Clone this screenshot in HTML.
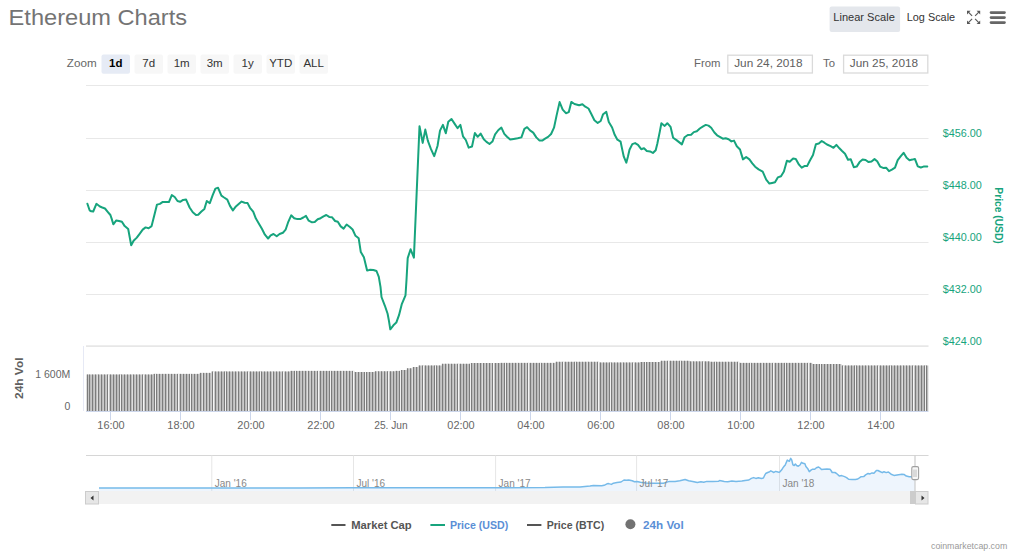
<!DOCTYPE html>
<html><head><meta charset="utf-8"><title>Ethereum Charts</title>
<style>html,body{margin:0;padding:0;background:#fff;width:1024px;height:557px;overflow:hidden}
svg{display:block;font-family:"Liberation Sans", sans-serif}</style></head>
<body><svg width="1024" height="557" viewBox="0 0 1024 557">
<rect width="1024" height="557" fill="#fff"/>
<text x="8.6" y="24.9" font-size="22" fill="#747474" textLength="178.5" lengthAdjust="spacingAndGlyphs">Ethereum Charts</text>
<text x="66.8" y="67.4" font-size="11.3" fill="#666" textLength="29.8" lengthAdjust="spacingAndGlyphs">Zoom</text>
<rect x="101.5" y="54.5" width="28.5" height="19.3" rx="2" fill="#e6ebf5"/>
<text x="115.7" y="67.2" font-size="11.5" text-anchor="middle" fill="#000" font-weight="bold">1d</text>
<rect x="134.5" y="54.5" width="28.5" height="19.3" rx="2" fill="#f7f7f7"/>
<text x="148.7" y="67.2" font-size="11.5" text-anchor="middle" fill="#333" font-weight="normal">7d</text>
<rect x="167.5" y="54.5" width="28.5" height="19.3" rx="2" fill="#f7f7f7"/>
<text x="181.7" y="67.2" font-size="11.5" text-anchor="middle" fill="#333" font-weight="normal">1m</text>
<rect x="200.5" y="54.5" width="28.5" height="19.3" rx="2" fill="#f7f7f7"/>
<text x="214.7" y="67.2" font-size="11.5" text-anchor="middle" fill="#333" font-weight="normal">3m</text>
<rect x="233.5" y="54.5" width="28.5" height="19.3" rx="2" fill="#f7f7f7"/>
<text x="247.7" y="67.2" font-size="11.5" text-anchor="middle" fill="#333" font-weight="normal">1y</text>
<rect x="266.5" y="54.5" width="28.5" height="19.3" rx="2" fill="#f7f7f7"/>
<text x="280.7" y="67.2" font-size="11.5" text-anchor="middle" fill="#333" font-weight="normal">YTD</text>
<rect x="299.5" y="54.5" width="28.5" height="19.3" rx="2" fill="#f7f7f7"/>
<text x="313.7" y="67.2" font-size="11.5" text-anchor="middle" fill="#333" font-weight="normal">ALL</text>
<text x="694" y="66.9" font-size="11.3" fill="#666">From</text>
<rect x="727.8" y="55.2" width="84.6" height="17.8" fill="#fff" stroke="#dadada" stroke-width="1.3"/>
<text x="734.2" y="66.9" font-size="11.6" fill="#606060" textLength="68.3" lengthAdjust="spacingAndGlyphs">Jun 24, 2018</text>
<text x="823" y="66.9" font-size="11.3" fill="#666">To</text>
<rect x="843.6" y="55.2" width="84.2" height="17.8" fill="#fff" stroke="#dadada" stroke-width="1.3"/>
<text x="849.8" y="66.9" font-size="11.6" fill="#606060" textLength="68.3" lengthAdjust="spacingAndGlyphs">Jun 25, 2018</text>
<rect x="829.6" y="6.6" width="70.5" height="25.3" rx="2" fill="#e4e7ec"/>
<text x="833.3" y="21" font-size="11" fill="#333" textLength="61.5" lengthAdjust="spacingAndGlyphs">Linear Scale</text>
<text x="906.8" y="21" font-size="11" fill="#333" textLength="48.3" lengthAdjust="spacingAndGlyphs">Log Scale</text>
<g fill="#585858" stroke="none"><path d="M967 10.8 L970.6 10.8 L967 14.4 Z"/><path d="M980.2 10.8 L976.6 10.8 L980.2 14.4 Z"/><path d="M967 24 L970.6 24 L967 20.4 Z"/><path d="M980.2 24 L976.6 24 L980.2 20.4 Z"/></g>
<g stroke="#585858" stroke-width="1.15" fill="none"><path d="M968.4 12.2 L972.1 15.9"/><path d="M978.8 12.2 L975.1 15.9"/><path d="M968.4 22.6 L972.1 18.9"/><path d="M978.8 22.6 L975.1 18.9"/></g>
<g stroke="#666" stroke-width="2.6" stroke-linecap="round"><path d="M991 12.6 H1004.5"/><path d="M991 17.6 H1004.5"/><path d="M991 22.6 H1004.5"/></g>
<path d="M86 85.5 H928.5" stroke="#e8e8e8" stroke-width="1"/>
<path d="M86 138.5 H928.5" stroke="#e8e8e8" stroke-width="1"/>
<path d="M86 190.5 H928.5" stroke="#e8e8e8" stroke-width="1"/>
<path d="M86 242.5 H928.5" stroke="#e8e8e8" stroke-width="1"/>
<path d="M86 294.5 H928.5" stroke="#e8e8e8" stroke-width="1"/>
<path d="M86 346.1 H928.5" stroke="#e7e7e7" stroke-width="1.8"/>
<text x="942.8" y="136.60000000000002" font-size="10.6" fill="#17a47d" textLength="39" lengthAdjust="spacingAndGlyphs">$456.00</text>
<text x="942.8" y="188.8" font-size="10.6" fill="#17a47d" textLength="39" lengthAdjust="spacingAndGlyphs">$448.00</text>
<text x="942.8" y="241.0" font-size="10.6" fill="#17a47d" textLength="39" lengthAdjust="spacingAndGlyphs">$440.00</text>
<text x="942.8" y="293.2" font-size="10.6" fill="#17a47d" textLength="39" lengthAdjust="spacingAndGlyphs">$432.00</text>
<text x="942.8" y="344.8" font-size="10.6" fill="#17a47d" textLength="39" lengthAdjust="spacingAndGlyphs">$424.00</text>
<text transform="translate(994.9 187.3) rotate(90)" x="0" y="0" font-size="10.8" font-weight="bold" fill="#17a47d" textLength="56.5" lengthAdjust="spacingAndGlyphs">Price (USD)</text>
<path d="M83.5 346 V411" stroke="#e6e9f5" stroke-width="1"/>
<path d="M86 379.5 H928.5" stroke="#efefef" stroke-width="1"/>
<g><rect x="86.50" y="374.5" width="2.36" height="36.5" fill="#bcbcbc"/><rect x="87" y="374.5" width="1" height="36.5" fill="#7c7c7c"/><rect x="88.86" y="374.5" width="2.92" height="36.5" fill="#bcbcbc"/><rect x="89" y="374.5" width="1" height="36.5" fill="#7c7c7c"/><rect x="91.78" y="374.5" width="2.92" height="36.5" fill="#bcbcbc"/><rect x="92" y="374.5" width="1" height="36.5" fill="#7c7c7c"/><rect x="94.69" y="374.5" width="2.92" height="36.5" fill="#bcbcbc"/><rect x="95" y="374.5" width="1" height="36.5" fill="#7c7c7c"/><rect x="97" y="374.5" width="1" height="36.5" fill="#f4f4f4"/><rect x="97.61" y="374.5" width="2.92" height="36.5" fill="#bcbcbc"/><rect x="98" y="374.5" width="1" height="36.5" fill="#7c7c7c"/><rect x="100.53" y="374.5" width="2.92" height="36.5" fill="#bcbcbc"/><rect x="101" y="374.5" width="1" height="36.5" fill="#7c7c7c"/><rect x="103.44" y="374.5" width="2.92" height="36.5" fill="#bcbcbc"/><rect x="104" y="374.5" width="1" height="36.5" fill="#7c7c7c"/><rect x="106.36" y="374.5" width="2.92" height="36.5" fill="#bcbcbc"/><rect x="107" y="374.5" width="1" height="36.5" fill="#7c7c7c"/><rect x="108" y="374.5" width="1" height="36.5" fill="#f4f4f4"/><rect x="109.28" y="374.5" width="2.92" height="36.5" fill="#bcbcbc"/><rect x="110" y="374.5" width="1" height="36.5" fill="#7c7c7c"/><rect x="112.19" y="374.5" width="2.92" height="36.5" fill="#bcbcbc"/><rect x="113" y="374.5" width="1" height="36.5" fill="#7c7c7c"/><rect x="115.11" y="374.5" width="2.92" height="36.5" fill="#bcbcbc"/><rect x="116" y="374.5" width="1" height="36.5" fill="#7c7c7c"/><rect x="118.03" y="374.5" width="2.92" height="36.5" fill="#bcbcbc"/><rect x="119" y="374.5" width="1" height="36.5" fill="#7c7c7c"/><rect x="120" y="374.5" width="1" height="36.5" fill="#f4f4f4"/><rect x="120.94" y="374.5" width="2.92" height="36.5" fill="#bcbcbc"/><rect x="121" y="374.5" width="1" height="36.5" fill="#7c7c7c"/><rect x="123.86" y="374.5" width="2.92" height="36.5" fill="#bcbcbc"/><rect x="124" y="374.5" width="1" height="36.5" fill="#7c7c7c"/><rect x="126.78" y="374.5" width="2.92" height="36.5" fill="#bcbcbc"/><rect x="127" y="374.5" width="1" height="36.5" fill="#7c7c7c"/><rect x="129.69" y="374.5" width="2.92" height="36.5" fill="#bcbcbc"/><rect x="130" y="374.5" width="1" height="36.5" fill="#7c7c7c"/><rect x="132" y="374.5" width="1" height="36.5" fill="#f4f4f4"/><rect x="132.61" y="374.5" width="2.92" height="36.5" fill="#bcbcbc"/><rect x="133" y="374.5" width="1" height="36.5" fill="#7c7c7c"/><rect x="135.53" y="374.5" width="2.92" height="36.5" fill="#bcbcbc"/><rect x="136" y="374.5" width="1" height="36.5" fill="#7c7c7c"/><rect x="138.44" y="374.5" width="2.92" height="36.5" fill="#bcbcbc"/><rect x="139" y="374.5" width="1" height="36.5" fill="#7c7c7c"/><rect x="141.36" y="374.5" width="2.92" height="36.5" fill="#bcbcbc"/><rect x="142" y="374.5" width="1" height="36.5" fill="#7c7c7c"/><rect x="143" y="374.5" width="1" height="36.5" fill="#f4f4f4"/><rect x="144.28" y="374.5" width="2.92" height="36.5" fill="#bcbcbc"/><rect x="145" y="374.5" width="1" height="36.5" fill="#7c7c7c"/><rect x="147.19" y="374.5" width="2.92" height="36.5" fill="#bcbcbc"/><rect x="148" y="374.5" width="1" height="36.5" fill="#7c7c7c"/><rect x="150.11" y="374.5" width="2.92" height="36.5" fill="#bcbcbc"/><rect x="151" y="374.5" width="1" height="36.5" fill="#7c7c7c"/><rect x="153.03" y="373.9" width="2.92" height="37.1" fill="#bcbcbc"/><rect x="154" y="373.9" width="1" height="37.1" fill="#7c7c7c"/><rect x="155" y="373.9" width="1" height="37.1" fill="#f4f4f4"/><rect x="155.94" y="373.9" width="2.92" height="37.1" fill="#bcbcbc"/><rect x="156" y="373.9" width="1" height="37.1" fill="#7c7c7c"/><rect x="158.86" y="373.9" width="2.92" height="37.1" fill="#bcbcbc"/><rect x="159" y="373.9" width="1" height="37.1" fill="#7c7c7c"/><rect x="161.78" y="373.9" width="2.92" height="37.1" fill="#bcbcbc"/><rect x="162" y="373.9" width="1" height="37.1" fill="#7c7c7c"/><rect x="164.69" y="373.9" width="2.92" height="37.1" fill="#bcbcbc"/><rect x="165" y="373.9" width="1" height="37.1" fill="#7c7c7c"/><rect x="167" y="373.9" width="1" height="37.1" fill="#f4f4f4"/><rect x="167.61" y="373.9" width="2.92" height="37.1" fill="#bcbcbc"/><rect x="168" y="373.9" width="1" height="37.1" fill="#7c7c7c"/><rect x="170.53" y="373.9" width="2.92" height="37.1" fill="#bcbcbc"/><rect x="171" y="373.9" width="1" height="37.1" fill="#7c7c7c"/><rect x="173.44" y="373.9" width="2.92" height="37.1" fill="#bcbcbc"/><rect x="174" y="373.9" width="1" height="37.1" fill="#7c7c7c"/><rect x="176.36" y="373.9" width="2.92" height="37.1" fill="#bcbcbc"/><rect x="177" y="373.9" width="1" height="37.1" fill="#7c7c7c"/><rect x="178" y="373.9" width="1" height="37.1" fill="#f4f4f4"/><rect x="179.28" y="373.9" width="2.92" height="37.1" fill="#bcbcbc"/><rect x="180" y="373.9" width="1" height="37.1" fill="#7c7c7c"/><rect x="182.19" y="373.9" width="2.92" height="37.1" fill="#bcbcbc"/><rect x="183" y="373.9" width="1" height="37.1" fill="#7c7c7c"/><rect x="185.11" y="373.9" width="2.92" height="37.1" fill="#bcbcbc"/><rect x="186" y="373.9" width="1" height="37.1" fill="#7c7c7c"/><rect x="188.03" y="373.9" width="2.92" height="37.1" fill="#bcbcbc"/><rect x="189" y="373.9" width="1" height="37.1" fill="#7c7c7c"/><rect x="190" y="373.9" width="1" height="37.1" fill="#f4f4f4"/><rect x="190.94" y="373.9" width="2.92" height="37.1" fill="#bcbcbc"/><rect x="191" y="373.9" width="1" height="37.1" fill="#7c7c7c"/><rect x="193.86" y="373.9" width="2.92" height="37.1" fill="#bcbcbc"/><rect x="194" y="373.9" width="1" height="37.1" fill="#7c7c7c"/><rect x="196.78" y="373.9" width="2.92" height="37.1" fill="#bcbcbc"/><rect x="197" y="373.9" width="1" height="37.1" fill="#7c7c7c"/><rect x="199.69" y="372.9" width="2.92" height="38.1" fill="#bcbcbc"/><rect x="200" y="372.9" width="1" height="38.1" fill="#7c7c7c"/><rect x="202" y="372.9" width="1" height="38.1" fill="#f4f4f4"/><rect x="202.61" y="372.9" width="2.92" height="38.1" fill="#bcbcbc"/><rect x="203" y="372.9" width="1" height="38.1" fill="#7c7c7c"/><rect x="205.53" y="372.9" width="2.92" height="38.1" fill="#bcbcbc"/><rect x="206" y="372.9" width="1" height="38.1" fill="#7c7c7c"/><rect x="208.44" y="372.9" width="2.92" height="38.1" fill="#bcbcbc"/><rect x="209" y="372.9" width="1" height="38.1" fill="#7c7c7c"/><rect x="211.36" y="371.5" width="2.92" height="39.5" fill="#bcbcbc"/><rect x="212" y="371.5" width="1" height="39.5" fill="#7c7c7c"/><rect x="213" y="371.5" width="1" height="39.5" fill="#f4f4f4"/><rect x="214.27" y="371.5" width="2.92" height="39.5" fill="#bcbcbc"/><rect x="215" y="371.5" width="1" height="39.5" fill="#7c7c7c"/><rect x="217.19" y="371.5" width="2.92" height="39.5" fill="#bcbcbc"/><rect x="218" y="371.5" width="1" height="39.5" fill="#7c7c7c"/><rect x="220.11" y="371.5" width="2.92" height="39.5" fill="#bcbcbc"/><rect x="221" y="371.5" width="1" height="39.5" fill="#7c7c7c"/><rect x="223.02" y="371.5" width="2.92" height="39.5" fill="#bcbcbc"/><rect x="224" y="371.5" width="1" height="39.5" fill="#7c7c7c"/><rect x="225" y="371.5" width="1" height="39.5" fill="#f4f4f4"/><rect x="225.94" y="371.5" width="2.92" height="39.5" fill="#bcbcbc"/><rect x="226" y="371.5" width="1" height="39.5" fill="#7c7c7c"/><rect x="228.86" y="371.5" width="2.92" height="39.5" fill="#bcbcbc"/><rect x="229" y="371.5" width="1" height="39.5" fill="#7c7c7c"/><rect x="231.77" y="371.5" width="2.92" height="39.5" fill="#bcbcbc"/><rect x="232" y="371.5" width="1" height="39.5" fill="#7c7c7c"/><rect x="234.69" y="371.5" width="2.92" height="39.5" fill="#bcbcbc"/><rect x="235" y="371.5" width="1" height="39.5" fill="#7c7c7c"/><rect x="237" y="371.5" width="1" height="39.5" fill="#f4f4f4"/><rect x="237.61" y="371.5" width="2.92" height="39.5" fill="#bcbcbc"/><rect x="238" y="371.5" width="1" height="39.5" fill="#7c7c7c"/><rect x="240.52" y="371.5" width="2.92" height="39.5" fill="#bcbcbc"/><rect x="241" y="371.5" width="1" height="39.5" fill="#7c7c7c"/><rect x="243.44" y="371.5" width="2.92" height="39.5" fill="#bcbcbc"/><rect x="244" y="371.5" width="1" height="39.5" fill="#7c7c7c"/><rect x="246.36" y="371.5" width="2.92" height="39.5" fill="#bcbcbc"/><rect x="247" y="371.5" width="1" height="39.5" fill="#7c7c7c"/><rect x="248" y="371.5" width="1" height="39.5" fill="#f4f4f4"/><rect x="249.27" y="371.5" width="2.92" height="39.5" fill="#bcbcbc"/><rect x="250" y="371.5" width="1" height="39.5" fill="#7c7c7c"/><rect x="252.19" y="371.5" width="2.92" height="39.5" fill="#bcbcbc"/><rect x="253" y="371.5" width="1" height="39.5" fill="#7c7c7c"/><rect x="255.11" y="371.5" width="2.92" height="39.5" fill="#bcbcbc"/><rect x="256" y="371.5" width="1" height="39.5" fill="#7c7c7c"/><rect x="258.03" y="371.5" width="2.92" height="39.5" fill="#bcbcbc"/><rect x="259" y="371.5" width="1" height="39.5" fill="#7c7c7c"/><rect x="260" y="371.5" width="1" height="39.5" fill="#f4f4f4"/><rect x="260.94" y="371.5" width="2.92" height="39.5" fill="#bcbcbc"/><rect x="261" y="371.5" width="1" height="39.5" fill="#7c7c7c"/><rect x="263.86" y="371.5" width="2.92" height="39.5" fill="#bcbcbc"/><rect x="264" y="371.5" width="1" height="39.5" fill="#7c7c7c"/><rect x="266.78" y="371.5" width="2.92" height="39.5" fill="#bcbcbc"/><rect x="267" y="371.5" width="1" height="39.5" fill="#7c7c7c"/><rect x="269.69" y="371.5" width="2.92" height="39.5" fill="#bcbcbc"/><rect x="270" y="371.5" width="1" height="39.5" fill="#7c7c7c"/><rect x="272" y="371.5" width="1" height="39.5" fill="#f4f4f4"/><rect x="272.61" y="371.5" width="2.92" height="39.5" fill="#bcbcbc"/><rect x="273" y="371.5" width="1" height="39.5" fill="#7c7c7c"/><rect x="275.53" y="371.5" width="2.92" height="39.5" fill="#bcbcbc"/><rect x="276" y="371.5" width="1" height="39.5" fill="#7c7c7c"/><rect x="278.44" y="371.5" width="2.92" height="39.5" fill="#bcbcbc"/><rect x="279" y="371.5" width="1" height="39.5" fill="#7c7c7c"/><rect x="281.36" y="371.5" width="2.92" height="39.5" fill="#bcbcbc"/><rect x="282" y="371.5" width="1" height="39.5" fill="#7c7c7c"/><rect x="283" y="371.5" width="1" height="39.5" fill="#f4f4f4"/><rect x="284.28" y="371.5" width="2.92" height="39.5" fill="#bcbcbc"/><rect x="285" y="371.5" width="1" height="39.5" fill="#7c7c7c"/><rect x="287.19" y="371.5" width="2.92" height="39.5" fill="#bcbcbc"/><rect x="288" y="371.5" width="1" height="39.5" fill="#7c7c7c"/><rect x="290.11" y="370.9" width="2.92" height="40.1" fill="#bcbcbc"/><rect x="291" y="370.9" width="1" height="40.1" fill="#7c7c7c"/><rect x="293.03" y="370.9" width="2.92" height="40.1" fill="#bcbcbc"/><rect x="294" y="370.9" width="1" height="40.1" fill="#7c7c7c"/><rect x="295" y="370.9" width="1" height="40.1" fill="#f4f4f4"/><rect x="295.94" y="370.9" width="2.92" height="40.1" fill="#bcbcbc"/><rect x="296" y="370.9" width="1" height="40.1" fill="#7c7c7c"/><rect x="298.86" y="370.9" width="2.92" height="40.1" fill="#bcbcbc"/><rect x="299" y="370.9" width="1" height="40.1" fill="#7c7c7c"/><rect x="301.78" y="370.9" width="2.92" height="40.1" fill="#bcbcbc"/><rect x="302" y="370.9" width="1" height="40.1" fill="#7c7c7c"/><rect x="304.69" y="370.9" width="2.92" height="40.1" fill="#bcbcbc"/><rect x="305" y="370.9" width="1" height="40.1" fill="#7c7c7c"/><rect x="307" y="370.9" width="1" height="40.1" fill="#f4f4f4"/><rect x="307.61" y="370.9" width="2.92" height="40.1" fill="#bcbcbc"/><rect x="308" y="370.9" width="1" height="40.1" fill="#7c7c7c"/><rect x="310.53" y="370.9" width="2.92" height="40.1" fill="#bcbcbc"/><rect x="311" y="370.9" width="1" height="40.1" fill="#7c7c7c"/><rect x="313.44" y="370.9" width="2.92" height="40.1" fill="#bcbcbc"/><rect x="314" y="370.9" width="1" height="40.1" fill="#7c7c7c"/><rect x="316.36" y="370.9" width="2.92" height="40.1" fill="#bcbcbc"/><rect x="317" y="370.9" width="1" height="40.1" fill="#7c7c7c"/><rect x="318" y="370.9" width="1" height="40.1" fill="#f4f4f4"/><rect x="319.28" y="370.9" width="2.92" height="40.1" fill="#bcbcbc"/><rect x="320" y="370.9" width="1" height="40.1" fill="#7c7c7c"/><rect x="322.19" y="370.9" width="2.92" height="40.1" fill="#bcbcbc"/><rect x="323" y="370.9" width="1" height="40.1" fill="#7c7c7c"/><rect x="325.11" y="370.9" width="2.92" height="40.1" fill="#bcbcbc"/><rect x="326" y="370.9" width="1" height="40.1" fill="#7c7c7c"/><rect x="328.03" y="370.9" width="2.92" height="40.1" fill="#bcbcbc"/><rect x="329" y="370.9" width="1" height="40.1" fill="#7c7c7c"/><rect x="330" y="370.9" width="1" height="40.1" fill="#f4f4f4"/><rect x="330.94" y="370.9" width="2.92" height="40.1" fill="#bcbcbc"/><rect x="331" y="370.9" width="1" height="40.1" fill="#7c7c7c"/><rect x="333.86" y="370.9" width="2.92" height="40.1" fill="#bcbcbc"/><rect x="334" y="370.9" width="1" height="40.1" fill="#7c7c7c"/><rect x="336.78" y="370.9" width="2.92" height="40.1" fill="#bcbcbc"/><rect x="337" y="370.9" width="1" height="40.1" fill="#7c7c7c"/><rect x="339.69" y="370.9" width="2.92" height="40.1" fill="#bcbcbc"/><rect x="340" y="370.9" width="1" height="40.1" fill="#7c7c7c"/><rect x="342" y="370.9" width="1" height="40.1" fill="#f4f4f4"/><rect x="342.61" y="370.9" width="2.92" height="40.1" fill="#bcbcbc"/><rect x="343" y="370.9" width="1" height="40.1" fill="#7c7c7c"/><rect x="345.53" y="370.9" width="2.92" height="40.1" fill="#bcbcbc"/><rect x="346" y="370.9" width="1" height="40.1" fill="#7c7c7c"/><rect x="348.44" y="370.9" width="2.92" height="40.1" fill="#bcbcbc"/><rect x="349" y="370.9" width="1" height="40.1" fill="#7c7c7c"/><rect x="351.36" y="370.9" width="2.92" height="40.1" fill="#bcbcbc"/><rect x="352" y="370.9" width="1" height="40.1" fill="#7c7c7c"/><rect x="353" y="370.9" width="1" height="40.1" fill="#f4f4f4"/><rect x="354.28" y="372.0" width="2.92" height="39.0" fill="#bcbcbc"/><rect x="355" y="372.0" width="1" height="39.0" fill="#7c7c7c"/><rect x="357.19" y="372.0" width="2.92" height="39.0" fill="#bcbcbc"/><rect x="358" y="372.0" width="1" height="39.0" fill="#7c7c7c"/><rect x="360.11" y="372.0" width="2.92" height="39.0" fill="#bcbcbc"/><rect x="361" y="372.0" width="1" height="39.0" fill="#7c7c7c"/><rect x="363.03" y="372.0" width="2.92" height="39.0" fill="#bcbcbc"/><rect x="364" y="372.0" width="1" height="39.0" fill="#7c7c7c"/><rect x="365" y="372.0" width="1" height="39.0" fill="#f4f4f4"/><rect x="365.94" y="372.0" width="2.92" height="39.0" fill="#bcbcbc"/><rect x="366" y="372.0" width="1" height="39.0" fill="#7c7c7c"/><rect x="368.86" y="372.0" width="2.92" height="39.0" fill="#bcbcbc"/><rect x="369" y="372.0" width="1" height="39.0" fill="#7c7c7c"/><rect x="371.78" y="372.0" width="2.92" height="39.0" fill="#bcbcbc"/><rect x="372" y="372.0" width="1" height="39.0" fill="#7c7c7c"/><rect x="374.69" y="371.3" width="2.92" height="39.7" fill="#bcbcbc"/><rect x="375" y="371.3" width="1" height="39.7" fill="#7c7c7c"/><rect x="377" y="371.3" width="1" height="39.7" fill="#f4f4f4"/><rect x="377.61" y="371.3" width="2.92" height="39.7" fill="#bcbcbc"/><rect x="378" y="371.3" width="1" height="39.7" fill="#7c7c7c"/><rect x="380.53" y="371.3" width="2.92" height="39.7" fill="#bcbcbc"/><rect x="381" y="371.3" width="1" height="39.7" fill="#7c7c7c"/><rect x="383.44" y="371.3" width="2.92" height="39.7" fill="#bcbcbc"/><rect x="384" y="371.3" width="1" height="39.7" fill="#7c7c7c"/><rect x="386.36" y="371.3" width="2.92" height="39.7" fill="#bcbcbc"/><rect x="387" y="371.3" width="1" height="39.7" fill="#7c7c7c"/><rect x="388" y="371.3" width="1" height="39.7" fill="#f4f4f4"/><rect x="389.28" y="371.3" width="2.92" height="39.7" fill="#bcbcbc"/><rect x="390" y="371.3" width="1" height="39.7" fill="#7c7c7c"/><rect x="392.19" y="371.3" width="2.92" height="39.7" fill="#bcbcbc"/><rect x="393" y="371.3" width="1" height="39.7" fill="#7c7c7c"/><rect x="395.11" y="370.9" width="2.92" height="40.1" fill="#bcbcbc"/><rect x="396" y="370.9" width="1" height="40.1" fill="#7c7c7c"/><rect x="398.03" y="370.9" width="2.92" height="40.1" fill="#bcbcbc"/><rect x="399" y="370.9" width="1" height="40.1" fill="#7c7c7c"/><rect x="400" y="370.9" width="1" height="40.1" fill="#f4f4f4"/><rect x="400.94" y="370.0" width="2.92" height="41.0" fill="#bcbcbc"/><rect x="401" y="370.0" width="1" height="41.0" fill="#7c7c7c"/><rect x="403.86" y="370.0" width="2.92" height="41.0" fill="#bcbcbc"/><rect x="404" y="370.0" width="1" height="41.0" fill="#7c7c7c"/><rect x="406.78" y="368.3" width="2.92" height="42.7" fill="#bcbcbc"/><rect x="407" y="368.3" width="1" height="42.7" fill="#7c7c7c"/><rect x="409.69" y="368.3" width="2.92" height="42.7" fill="#bcbcbc"/><rect x="410" y="368.3" width="1" height="42.7" fill="#7c7c7c"/><rect x="412" y="368.3" width="1" height="42.7" fill="#f4f4f4"/><rect x="412.61" y="367.0" width="2.92" height="44.0" fill="#bcbcbc"/><rect x="413" y="367.0" width="1" height="44.0" fill="#7c7c7c"/><rect x="415.53" y="367.0" width="2.92" height="44.0" fill="#bcbcbc"/><rect x="416" y="367.0" width="1" height="44.0" fill="#7c7c7c"/><rect x="418.44" y="365.5" width="2.92" height="45.5" fill="#bcbcbc"/><rect x="419" y="365.5" width="1" height="45.5" fill="#7c7c7c"/><rect x="421.36" y="365.5" width="2.92" height="45.5" fill="#bcbcbc"/><rect x="422" y="365.5" width="1" height="45.5" fill="#7c7c7c"/><rect x="423" y="365.5" width="1" height="45.5" fill="#f4f4f4"/><rect x="424.28" y="365.5" width="2.92" height="45.5" fill="#bcbcbc"/><rect x="425" y="365.5" width="1" height="45.5" fill="#7c7c7c"/><rect x="427.19" y="365.5" width="2.92" height="45.5" fill="#bcbcbc"/><rect x="428" y="365.5" width="1" height="45.5" fill="#7c7c7c"/><rect x="430.11" y="365.5" width="2.92" height="45.5" fill="#bcbcbc"/><rect x="431" y="365.5" width="1" height="45.5" fill="#7c7c7c"/><rect x="433.03" y="365.5" width="2.92" height="45.5" fill="#bcbcbc"/><rect x="434" y="365.5" width="1" height="45.5" fill="#7c7c7c"/><rect x="435" y="365.5" width="1" height="45.5" fill="#f4f4f4"/><rect x="435.94" y="365.5" width="2.92" height="45.5" fill="#bcbcbc"/><rect x="436" y="365.5" width="1" height="45.5" fill="#7c7c7c"/><rect x="438.86" y="365.5" width="2.92" height="45.5" fill="#bcbcbc"/><rect x="439" y="365.5" width="1" height="45.5" fill="#7c7c7c"/><rect x="441.78" y="363.8" width="2.92" height="47.2" fill="#bcbcbc"/><rect x="442" y="363.8" width="1" height="47.2" fill="#7c7c7c"/><rect x="444.69" y="363.8" width="2.92" height="47.2" fill="#bcbcbc"/><rect x="445" y="363.8" width="1" height="47.2" fill="#7c7c7c"/><rect x="447" y="363.8" width="1" height="47.2" fill="#f4f4f4"/><rect x="447.61" y="363.8" width="2.92" height="47.2" fill="#bcbcbc"/><rect x="448" y="363.8" width="1" height="47.2" fill="#7c7c7c"/><rect x="450.53" y="363.8" width="2.92" height="47.2" fill="#bcbcbc"/><rect x="451" y="363.8" width="1" height="47.2" fill="#7c7c7c"/><rect x="453.44" y="363.8" width="2.92" height="47.2" fill="#bcbcbc"/><rect x="454" y="363.8" width="1" height="47.2" fill="#7c7c7c"/><rect x="456.36" y="363.8" width="2.92" height="47.2" fill="#bcbcbc"/><rect x="457" y="363.8" width="1" height="47.2" fill="#7c7c7c"/><rect x="458" y="363.8" width="1" height="47.2" fill="#f4f4f4"/><rect x="459.28" y="363.8" width="2.92" height="47.2" fill="#bcbcbc"/><rect x="460" y="363.8" width="1" height="47.2" fill="#7c7c7c"/><rect x="462.19" y="363.8" width="2.92" height="47.2" fill="#bcbcbc"/><rect x="463" y="363.8" width="1" height="47.2" fill="#7c7c7c"/><rect x="465.11" y="363.8" width="2.92" height="47.2" fill="#bcbcbc"/><rect x="466" y="363.8" width="1" height="47.2" fill="#7c7c7c"/><rect x="468.03" y="363.8" width="2.92" height="47.2" fill="#bcbcbc"/><rect x="469" y="363.8" width="1" height="47.2" fill="#7c7c7c"/><rect x="470" y="363.8" width="1" height="47.2" fill="#f4f4f4"/><rect x="470.94" y="363.0" width="2.92" height="48.0" fill="#bcbcbc"/><rect x="471" y="363.0" width="1" height="48.0" fill="#7c7c7c"/><rect x="473.86" y="363.0" width="2.92" height="48.0" fill="#bcbcbc"/><rect x="474" y="363.0" width="1" height="48.0" fill="#7c7c7c"/><rect x="476.78" y="363.0" width="2.92" height="48.0" fill="#bcbcbc"/><rect x="477" y="363.0" width="1" height="48.0" fill="#7c7c7c"/><rect x="479.69" y="363.0" width="2.92" height="48.0" fill="#bcbcbc"/><rect x="480" y="363.0" width="1" height="48.0" fill="#7c7c7c"/><rect x="482" y="363.0" width="1" height="48.0" fill="#f4f4f4"/><rect x="482.61" y="363.0" width="2.92" height="48.0" fill="#bcbcbc"/><rect x="483" y="363.0" width="1" height="48.0" fill="#7c7c7c"/><rect x="485.53" y="363.0" width="2.92" height="48.0" fill="#bcbcbc"/><rect x="486" y="363.0" width="1" height="48.0" fill="#7c7c7c"/><rect x="488.44" y="363.0" width="2.92" height="48.0" fill="#bcbcbc"/><rect x="489" y="363.0" width="1" height="48.0" fill="#7c7c7c"/><rect x="491.36" y="363.0" width="2.92" height="48.0" fill="#bcbcbc"/><rect x="492" y="363.0" width="1" height="48.0" fill="#7c7c7c"/><rect x="493" y="363.0" width="1" height="48.0" fill="#f4f4f4"/><rect x="494.28" y="363.0" width="2.92" height="48.0" fill="#bcbcbc"/><rect x="495" y="363.0" width="1" height="48.0" fill="#7c7c7c"/><rect x="497.19" y="363.0" width="2.92" height="48.0" fill="#bcbcbc"/><rect x="498" y="363.0" width="1" height="48.0" fill="#7c7c7c"/><rect x="500.11" y="362.9" width="2.92" height="48.1" fill="#bcbcbc"/><rect x="501" y="362.9" width="1" height="48.1" fill="#7c7c7c"/><rect x="503.03" y="362.9" width="2.92" height="48.1" fill="#bcbcbc"/><rect x="504" y="362.9" width="1" height="48.1" fill="#7c7c7c"/><rect x="505" y="362.9" width="1" height="48.1" fill="#f4f4f4"/><rect x="505.94" y="362.9" width="2.92" height="48.1" fill="#bcbcbc"/><rect x="506" y="362.9" width="1" height="48.1" fill="#7c7c7c"/><rect x="508.86" y="362.9" width="2.92" height="48.1" fill="#bcbcbc"/><rect x="509" y="362.9" width="1" height="48.1" fill="#7c7c7c"/><rect x="511.78" y="362.9" width="2.92" height="48.1" fill="#bcbcbc"/><rect x="512" y="362.9" width="1" height="48.1" fill="#7c7c7c"/><rect x="514.69" y="362.9" width="2.92" height="48.1" fill="#bcbcbc"/><rect x="515" y="362.9" width="1" height="48.1" fill="#7c7c7c"/><rect x="517" y="362.9" width="1" height="48.1" fill="#f4f4f4"/><rect x="517.61" y="362.9" width="2.92" height="48.1" fill="#bcbcbc"/><rect x="518" y="362.9" width="1" height="48.1" fill="#7c7c7c"/><rect x="520.52" y="362.9" width="2.92" height="48.1" fill="#bcbcbc"/><rect x="521" y="362.9" width="1" height="48.1" fill="#7c7c7c"/><rect x="523.44" y="362.9" width="2.92" height="48.1" fill="#bcbcbc"/><rect x="524" y="362.9" width="1" height="48.1" fill="#7c7c7c"/><rect x="526.36" y="362.9" width="2.92" height="48.1" fill="#bcbcbc"/><rect x="527" y="362.9" width="1" height="48.1" fill="#7c7c7c"/><rect x="528" y="362.9" width="1" height="48.1" fill="#f4f4f4"/><rect x="529.27" y="362.9" width="2.92" height="48.1" fill="#bcbcbc"/><rect x="530" y="362.9" width="1" height="48.1" fill="#7c7c7c"/><rect x="532.19" y="362.9" width="2.92" height="48.1" fill="#bcbcbc"/><rect x="533" y="362.9" width="1" height="48.1" fill="#7c7c7c"/><rect x="535.11" y="362.9" width="2.92" height="48.1" fill="#bcbcbc"/><rect x="536" y="362.9" width="1" height="48.1" fill="#7c7c7c"/><rect x="538.02" y="362.9" width="2.92" height="48.1" fill="#bcbcbc"/><rect x="539" y="362.9" width="1" height="48.1" fill="#7c7c7c"/><rect x="540" y="362.9" width="1" height="48.1" fill="#f4f4f4"/><rect x="540.94" y="362.9" width="2.92" height="48.1" fill="#bcbcbc"/><rect x="541" y="362.9" width="1" height="48.1" fill="#7c7c7c"/><rect x="543.86" y="362.9" width="2.92" height="48.1" fill="#bcbcbc"/><rect x="544" y="362.9" width="1" height="48.1" fill="#7c7c7c"/><rect x="546.77" y="362.9" width="2.92" height="48.1" fill="#bcbcbc"/><rect x="547" y="362.9" width="1" height="48.1" fill="#7c7c7c"/><rect x="549.69" y="362.9" width="2.92" height="48.1" fill="#bcbcbc"/><rect x="550" y="362.9" width="1" height="48.1" fill="#7c7c7c"/><rect x="552" y="362.9" width="1" height="48.1" fill="#f4f4f4"/><rect x="552.61" y="362.9" width="2.92" height="48.1" fill="#bcbcbc"/><rect x="553" y="362.9" width="1" height="48.1" fill="#7c7c7c"/><rect x="555.52" y="361.8" width="2.92" height="49.2" fill="#bcbcbc"/><rect x="556" y="361.8" width="1" height="49.2" fill="#7c7c7c"/><rect x="558.44" y="361.8" width="2.92" height="49.2" fill="#bcbcbc"/><rect x="559" y="361.8" width="1" height="49.2" fill="#7c7c7c"/><rect x="561.36" y="361.8" width="2.92" height="49.2" fill="#bcbcbc"/><rect x="562" y="361.8" width="1" height="49.2" fill="#7c7c7c"/><rect x="563" y="361.8" width="1" height="49.2" fill="#f4f4f4"/><rect x="564.27" y="361.8" width="2.92" height="49.2" fill="#bcbcbc"/><rect x="565" y="361.8" width="1" height="49.2" fill="#7c7c7c"/><rect x="567.19" y="361.8" width="2.92" height="49.2" fill="#bcbcbc"/><rect x="568" y="361.8" width="1" height="49.2" fill="#7c7c7c"/><rect x="570.11" y="361.8" width="2.92" height="49.2" fill="#bcbcbc"/><rect x="571" y="361.8" width="1" height="49.2" fill="#7c7c7c"/><rect x="573.02" y="361.8" width="2.92" height="49.2" fill="#bcbcbc"/><rect x="574" y="361.8" width="1" height="49.2" fill="#7c7c7c"/><rect x="575" y="361.8" width="1" height="49.2" fill="#f4f4f4"/><rect x="575.94" y="361.8" width="2.92" height="49.2" fill="#bcbcbc"/><rect x="576" y="361.8" width="1" height="49.2" fill="#7c7c7c"/><rect x="578.86" y="361.8" width="2.92" height="49.2" fill="#bcbcbc"/><rect x="579" y="361.8" width="1" height="49.2" fill="#7c7c7c"/><rect x="581.77" y="361.8" width="2.92" height="49.2" fill="#bcbcbc"/><rect x="582" y="361.8" width="1" height="49.2" fill="#7c7c7c"/><rect x="584.69" y="361.8" width="2.92" height="49.2" fill="#bcbcbc"/><rect x="585" y="361.8" width="1" height="49.2" fill="#7c7c7c"/><rect x="587" y="361.8" width="1" height="49.2" fill="#f4f4f4"/><rect x="587.61" y="361.8" width="2.92" height="49.2" fill="#bcbcbc"/><rect x="588" y="361.8" width="1" height="49.2" fill="#7c7c7c"/><rect x="590.52" y="361.8" width="2.92" height="49.2" fill="#bcbcbc"/><rect x="591" y="361.8" width="1" height="49.2" fill="#7c7c7c"/><rect x="593.44" y="361.8" width="2.92" height="49.2" fill="#bcbcbc"/><rect x="594" y="361.8" width="1" height="49.2" fill="#7c7c7c"/><rect x="596.36" y="361.8" width="2.92" height="49.2" fill="#bcbcbc"/><rect x="597" y="361.8" width="1" height="49.2" fill="#7c7c7c"/><rect x="598" y="361.8" width="1" height="49.2" fill="#f4f4f4"/><rect x="599.27" y="362.5" width="2.92" height="48.5" fill="#bcbcbc"/><rect x="600" y="362.5" width="1" height="48.5" fill="#7c7c7c"/><rect x="602.19" y="362.5" width="2.92" height="48.5" fill="#bcbcbc"/><rect x="603" y="362.5" width="1" height="48.5" fill="#7c7c7c"/><rect x="605.11" y="362.5" width="2.92" height="48.5" fill="#bcbcbc"/><rect x="606" y="362.5" width="1" height="48.5" fill="#7c7c7c"/><rect x="608.02" y="362.5" width="2.92" height="48.5" fill="#bcbcbc"/><rect x="609" y="362.5" width="1" height="48.5" fill="#7c7c7c"/><rect x="610" y="362.5" width="1" height="48.5" fill="#f4f4f4"/><rect x="610.94" y="362.5" width="2.92" height="48.5" fill="#bcbcbc"/><rect x="611" y="362.5" width="1" height="48.5" fill="#7c7c7c"/><rect x="613.86" y="362.5" width="2.92" height="48.5" fill="#bcbcbc"/><rect x="614" y="362.5" width="1" height="48.5" fill="#7c7c7c"/><rect x="616.77" y="362.5" width="2.92" height="48.5" fill="#bcbcbc"/><rect x="617" y="362.5" width="1" height="48.5" fill="#7c7c7c"/><rect x="619.69" y="362.5" width="2.92" height="48.5" fill="#bcbcbc"/><rect x="620" y="362.5" width="1" height="48.5" fill="#7c7c7c"/><rect x="622" y="362.5" width="1" height="48.5" fill="#f4f4f4"/><rect x="622.61" y="362.5" width="2.92" height="48.5" fill="#bcbcbc"/><rect x="623" y="362.5" width="1" height="48.5" fill="#7c7c7c"/><rect x="625.52" y="362.5" width="2.92" height="48.5" fill="#bcbcbc"/><rect x="626" y="362.5" width="1" height="48.5" fill="#7c7c7c"/><rect x="628.44" y="362.5" width="2.92" height="48.5" fill="#bcbcbc"/><rect x="629" y="362.5" width="1" height="48.5" fill="#7c7c7c"/><rect x="631.36" y="362.5" width="2.92" height="48.5" fill="#bcbcbc"/><rect x="632" y="362.5" width="1" height="48.5" fill="#7c7c7c"/><rect x="633" y="362.5" width="1" height="48.5" fill="#f4f4f4"/><rect x="634.27" y="362.5" width="2.92" height="48.5" fill="#bcbcbc"/><rect x="635" y="362.5" width="1" height="48.5" fill="#7c7c7c"/><rect x="637.19" y="362.5" width="2.92" height="48.5" fill="#bcbcbc"/><rect x="638" y="362.5" width="1" height="48.5" fill="#7c7c7c"/><rect x="640.11" y="362.0" width="2.92" height="49.0" fill="#bcbcbc"/><rect x="641" y="362.0" width="1" height="49.0" fill="#7c7c7c"/><rect x="643.02" y="362.0" width="2.92" height="49.0" fill="#bcbcbc"/><rect x="644" y="362.0" width="1" height="49.0" fill="#7c7c7c"/><rect x="645" y="362.0" width="1" height="49.0" fill="#f4f4f4"/><rect x="645.94" y="362.0" width="2.92" height="49.0" fill="#bcbcbc"/><rect x="646" y="362.0" width="1" height="49.0" fill="#7c7c7c"/><rect x="648.86" y="362.0" width="2.92" height="49.0" fill="#bcbcbc"/><rect x="649" y="362.0" width="1" height="49.0" fill="#7c7c7c"/><rect x="651.77" y="362.0" width="2.92" height="49.0" fill="#bcbcbc"/><rect x="652" y="362.0" width="1" height="49.0" fill="#7c7c7c"/><rect x="654.69" y="362.0" width="2.92" height="49.0" fill="#bcbcbc"/><rect x="655" y="362.0" width="1" height="49.0" fill="#7c7c7c"/><rect x="657" y="362.0" width="1" height="49.0" fill="#f4f4f4"/><rect x="657.61" y="362.0" width="2.92" height="49.0" fill="#bcbcbc"/><rect x="658" y="362.0" width="1" height="49.0" fill="#7c7c7c"/><rect x="660.52" y="360.8" width="2.92" height="50.2" fill="#bcbcbc"/><rect x="661" y="360.8" width="1" height="50.2" fill="#7c7c7c"/><rect x="663.44" y="360.8" width="2.92" height="50.2" fill="#bcbcbc"/><rect x="664" y="360.8" width="1" height="50.2" fill="#7c7c7c"/><rect x="666.36" y="360.8" width="2.92" height="50.2" fill="#bcbcbc"/><rect x="667" y="360.8" width="1" height="50.2" fill="#7c7c7c"/><rect x="668" y="360.8" width="1" height="50.2" fill="#f4f4f4"/><rect x="669.27" y="360.8" width="2.92" height="50.2" fill="#bcbcbc"/><rect x="670" y="360.8" width="1" height="50.2" fill="#7c7c7c"/><rect x="672.19" y="360.8" width="2.92" height="50.2" fill="#bcbcbc"/><rect x="673" y="360.8" width="1" height="50.2" fill="#7c7c7c"/><rect x="675.11" y="360.8" width="2.92" height="50.2" fill="#bcbcbc"/><rect x="676" y="360.8" width="1" height="50.2" fill="#7c7c7c"/><rect x="678.02" y="360.8" width="2.92" height="50.2" fill="#bcbcbc"/><rect x="679" y="360.8" width="1" height="50.2" fill="#7c7c7c"/><rect x="680" y="360.8" width="1" height="50.2" fill="#f4f4f4"/><rect x="680.94" y="360.8" width="2.92" height="50.2" fill="#bcbcbc"/><rect x="681" y="360.8" width="1" height="50.2" fill="#7c7c7c"/><rect x="683.86" y="360.8" width="2.92" height="50.2" fill="#bcbcbc"/><rect x="684" y="360.8" width="1" height="50.2" fill="#7c7c7c"/><rect x="686.77" y="360.8" width="2.92" height="50.2" fill="#bcbcbc"/><rect x="687" y="360.8" width="1" height="50.2" fill="#7c7c7c"/><rect x="689.69" y="361.4" width="2.92" height="49.6" fill="#bcbcbc"/><rect x="690" y="361.4" width="1" height="49.6" fill="#7c7c7c"/><rect x="692" y="361.4" width="1" height="49.6" fill="#f4f4f4"/><rect x="692.61" y="361.4" width="2.92" height="49.6" fill="#bcbcbc"/><rect x="693" y="361.4" width="1" height="49.6" fill="#7c7c7c"/><rect x="695.52" y="361.4" width="2.92" height="49.6" fill="#bcbcbc"/><rect x="696" y="361.4" width="1" height="49.6" fill="#7c7c7c"/><rect x="698.44" y="361.4" width="2.92" height="49.6" fill="#bcbcbc"/><rect x="699" y="361.4" width="1" height="49.6" fill="#7c7c7c"/><rect x="701.36" y="361.4" width="2.92" height="49.6" fill="#bcbcbc"/><rect x="702" y="361.4" width="1" height="49.6" fill="#7c7c7c"/><rect x="703" y="361.4" width="1" height="49.6" fill="#f4f4f4"/><rect x="704.27" y="361.4" width="2.92" height="49.6" fill="#bcbcbc"/><rect x="705" y="361.4" width="1" height="49.6" fill="#7c7c7c"/><rect x="707.19" y="361.4" width="2.92" height="49.6" fill="#bcbcbc"/><rect x="708" y="361.4" width="1" height="49.6" fill="#7c7c7c"/><rect x="710.11" y="361.8" width="2.92" height="49.2" fill="#bcbcbc"/><rect x="711" y="361.8" width="1" height="49.2" fill="#7c7c7c"/><rect x="713.02" y="361.8" width="2.92" height="49.2" fill="#bcbcbc"/><rect x="714" y="361.8" width="1" height="49.2" fill="#7c7c7c"/><rect x="715" y="361.8" width="1" height="49.2" fill="#f4f4f4"/><rect x="715.94" y="361.8" width="2.92" height="49.2" fill="#bcbcbc"/><rect x="716" y="361.8" width="1" height="49.2" fill="#7c7c7c"/><rect x="718.86" y="361.8" width="2.92" height="49.2" fill="#bcbcbc"/><rect x="719" y="361.8" width="1" height="49.2" fill="#7c7c7c"/><rect x="721.77" y="361.8" width="2.92" height="49.2" fill="#bcbcbc"/><rect x="722" y="361.8" width="1" height="49.2" fill="#7c7c7c"/><rect x="724.69" y="361.8" width="2.92" height="49.2" fill="#bcbcbc"/><rect x="725" y="361.8" width="1" height="49.2" fill="#7c7c7c"/><rect x="727" y="361.8" width="1" height="49.2" fill="#f4f4f4"/><rect x="727.61" y="361.8" width="2.92" height="49.2" fill="#bcbcbc"/><rect x="728" y="361.8" width="1" height="49.2" fill="#7c7c7c"/><rect x="730.52" y="361.8" width="2.92" height="49.2" fill="#bcbcbc"/><rect x="731" y="361.8" width="1" height="49.2" fill="#7c7c7c"/><rect x="733.44" y="361.8" width="2.92" height="49.2" fill="#bcbcbc"/><rect x="734" y="361.8" width="1" height="49.2" fill="#7c7c7c"/><rect x="736.36" y="361.8" width="2.92" height="49.2" fill="#bcbcbc"/><rect x="737" y="361.8" width="1" height="49.2" fill="#7c7c7c"/><rect x="738" y="361.8" width="1" height="49.2" fill="#f4f4f4"/><rect x="739.27" y="362.9" width="2.92" height="48.1" fill="#bcbcbc"/><rect x="740" y="362.9" width="1" height="48.1" fill="#7c7c7c"/><rect x="742.19" y="362.9" width="2.92" height="48.1" fill="#bcbcbc"/><rect x="743" y="362.9" width="1" height="48.1" fill="#7c7c7c"/><rect x="745.11" y="362.9" width="2.92" height="48.1" fill="#bcbcbc"/><rect x="746" y="362.9" width="1" height="48.1" fill="#7c7c7c"/><rect x="748.02" y="362.9" width="2.92" height="48.1" fill="#bcbcbc"/><rect x="749" y="362.9" width="1" height="48.1" fill="#7c7c7c"/><rect x="750" y="362.9" width="1" height="48.1" fill="#f4f4f4"/><rect x="750.94" y="362.9" width="2.92" height="48.1" fill="#bcbcbc"/><rect x="751" y="362.9" width="1" height="48.1" fill="#7c7c7c"/><rect x="753.86" y="362.9" width="2.92" height="48.1" fill="#bcbcbc"/><rect x="754" y="362.9" width="1" height="48.1" fill="#7c7c7c"/><rect x="756.77" y="362.9" width="2.92" height="48.1" fill="#bcbcbc"/><rect x="757" y="362.9" width="1" height="48.1" fill="#7c7c7c"/><rect x="759.69" y="362.9" width="2.92" height="48.1" fill="#bcbcbc"/><rect x="760" y="362.9" width="1" height="48.1" fill="#7c7c7c"/><rect x="762" y="362.9" width="1" height="48.1" fill="#f4f4f4"/><rect x="762.61" y="362.9" width="2.92" height="48.1" fill="#bcbcbc"/><rect x="763" y="362.9" width="1" height="48.1" fill="#7c7c7c"/><rect x="765.52" y="362.9" width="2.92" height="48.1" fill="#bcbcbc"/><rect x="766" y="362.9" width="1" height="48.1" fill="#7c7c7c"/><rect x="768.44" y="362.9" width="2.92" height="48.1" fill="#bcbcbc"/><rect x="769" y="362.9" width="1" height="48.1" fill="#7c7c7c"/><rect x="771.36" y="362.9" width="2.92" height="48.1" fill="#bcbcbc"/><rect x="772" y="362.9" width="1" height="48.1" fill="#7c7c7c"/><rect x="773" y="362.9" width="1" height="48.1" fill="#f4f4f4"/><rect x="774.27" y="362.9" width="2.92" height="48.1" fill="#bcbcbc"/><rect x="775" y="362.9" width="1" height="48.1" fill="#7c7c7c"/><rect x="777.19" y="362.9" width="2.92" height="48.1" fill="#bcbcbc"/><rect x="778" y="362.9" width="1" height="48.1" fill="#7c7c7c"/><rect x="780.11" y="362.9" width="2.92" height="48.1" fill="#bcbcbc"/><rect x="781" y="362.9" width="1" height="48.1" fill="#7c7c7c"/><rect x="783.02" y="362.9" width="2.92" height="48.1" fill="#bcbcbc"/><rect x="784" y="362.9" width="1" height="48.1" fill="#7c7c7c"/><rect x="785" y="362.9" width="1" height="48.1" fill="#f4f4f4"/><rect x="785.94" y="362.9" width="2.92" height="48.1" fill="#bcbcbc"/><rect x="786" y="362.9" width="1" height="48.1" fill="#7c7c7c"/><rect x="788.86" y="362.9" width="2.92" height="48.1" fill="#bcbcbc"/><rect x="789" y="362.9" width="1" height="48.1" fill="#7c7c7c"/><rect x="791.77" y="362.9" width="2.92" height="48.1" fill="#bcbcbc"/><rect x="792" y="362.9" width="1" height="48.1" fill="#7c7c7c"/><rect x="794.69" y="362.9" width="2.92" height="48.1" fill="#bcbcbc"/><rect x="795" y="362.9" width="1" height="48.1" fill="#7c7c7c"/><rect x="797" y="362.9" width="1" height="48.1" fill="#f4f4f4"/><rect x="797.61" y="362.9" width="2.92" height="48.1" fill="#bcbcbc"/><rect x="798" y="362.9" width="1" height="48.1" fill="#7c7c7c"/><rect x="800.52" y="362.9" width="2.92" height="48.1" fill="#bcbcbc"/><rect x="801" y="362.9" width="1" height="48.1" fill="#7c7c7c"/><rect x="803.44" y="362.9" width="2.92" height="48.1" fill="#bcbcbc"/><rect x="804" y="362.9" width="1" height="48.1" fill="#7c7c7c"/><rect x="806.36" y="362.9" width="2.92" height="48.1" fill="#bcbcbc"/><rect x="807" y="362.9" width="1" height="48.1" fill="#7c7c7c"/><rect x="808" y="362.9" width="1" height="48.1" fill="#f4f4f4"/><rect x="809.27" y="362.9" width="2.92" height="48.1" fill="#bcbcbc"/><rect x="810" y="362.9" width="1" height="48.1" fill="#7c7c7c"/><rect x="812.19" y="364.0" width="2.92" height="47.0" fill="#bcbcbc"/><rect x="813" y="364.0" width="1" height="47.0" fill="#7c7c7c"/><rect x="815.11" y="364.0" width="2.92" height="47.0" fill="#bcbcbc"/><rect x="816" y="364.0" width="1" height="47.0" fill="#7c7c7c"/><rect x="818.02" y="364.0" width="2.92" height="47.0" fill="#bcbcbc"/><rect x="819" y="364.0" width="1" height="47.0" fill="#7c7c7c"/><rect x="820" y="364.0" width="1" height="47.0" fill="#f4f4f4"/><rect x="820.94" y="364.0" width="2.92" height="47.0" fill="#bcbcbc"/><rect x="821" y="364.0" width="1" height="47.0" fill="#7c7c7c"/><rect x="823.86" y="364.0" width="2.92" height="47.0" fill="#bcbcbc"/><rect x="824" y="364.0" width="1" height="47.0" fill="#7c7c7c"/><rect x="826.77" y="364.0" width="2.92" height="47.0" fill="#bcbcbc"/><rect x="827" y="364.0" width="1" height="47.0" fill="#7c7c7c"/><rect x="829.69" y="364.0" width="2.92" height="47.0" fill="#bcbcbc"/><rect x="830" y="364.0" width="1" height="47.0" fill="#7c7c7c"/><rect x="832" y="364.0" width="1" height="47.0" fill="#f4f4f4"/><rect x="832.61" y="364.0" width="2.92" height="47.0" fill="#bcbcbc"/><rect x="833" y="364.0" width="1" height="47.0" fill="#7c7c7c"/><rect x="835.52" y="364.0" width="2.92" height="47.0" fill="#bcbcbc"/><rect x="836" y="364.0" width="1" height="47.0" fill="#7c7c7c"/><rect x="838.44" y="364.0" width="2.92" height="47.0" fill="#bcbcbc"/><rect x="839" y="364.0" width="1" height="47.0" fill="#7c7c7c"/><rect x="841.36" y="365.5" width="2.92" height="45.5" fill="#bcbcbc"/><rect x="842" y="365.5" width="1" height="45.5" fill="#7c7c7c"/><rect x="843" y="365.5" width="1" height="45.5" fill="#f4f4f4"/><rect x="844.27" y="365.5" width="2.92" height="45.5" fill="#bcbcbc"/><rect x="845" y="365.5" width="1" height="45.5" fill="#7c7c7c"/><rect x="847.19" y="365.5" width="2.92" height="45.5" fill="#bcbcbc"/><rect x="848" y="365.5" width="1" height="45.5" fill="#7c7c7c"/><rect x="850.11" y="365.5" width="2.92" height="45.5" fill="#bcbcbc"/><rect x="851" y="365.5" width="1" height="45.5" fill="#7c7c7c"/><rect x="853.02" y="365.5" width="2.92" height="45.5" fill="#bcbcbc"/><rect x="854" y="365.5" width="1" height="45.5" fill="#7c7c7c"/><rect x="855" y="365.5" width="1" height="45.5" fill="#f4f4f4"/><rect x="855.94" y="365.5" width="2.92" height="45.5" fill="#bcbcbc"/><rect x="856" y="365.5" width="1" height="45.5" fill="#7c7c7c"/><rect x="858.86" y="365.5" width="2.92" height="45.5" fill="#bcbcbc"/><rect x="859" y="365.5" width="1" height="45.5" fill="#7c7c7c"/><rect x="861.77" y="365.5" width="2.92" height="45.5" fill="#bcbcbc"/><rect x="862" y="365.5" width="1" height="45.5" fill="#7c7c7c"/><rect x="864.69" y="365.5" width="2.92" height="45.5" fill="#bcbcbc"/><rect x="865" y="365.5" width="1" height="45.5" fill="#7c7c7c"/><rect x="867" y="365.5" width="1" height="45.5" fill="#f4f4f4"/><rect x="867.61" y="365.5" width="2.92" height="45.5" fill="#bcbcbc"/><rect x="868" y="365.5" width="1" height="45.5" fill="#7c7c7c"/><rect x="870.52" y="365.5" width="2.92" height="45.5" fill="#bcbcbc"/><rect x="871" y="365.5" width="1" height="45.5" fill="#7c7c7c"/><rect x="873.44" y="365.5" width="2.92" height="45.5" fill="#bcbcbc"/><rect x="874" y="365.5" width="1" height="45.5" fill="#7c7c7c"/><rect x="876.36" y="365.5" width="2.92" height="45.5" fill="#bcbcbc"/><rect x="877" y="365.5" width="1" height="45.5" fill="#7c7c7c"/><rect x="878" y="365.5" width="1" height="45.5" fill="#f4f4f4"/><rect x="879.27" y="365.5" width="2.92" height="45.5" fill="#bcbcbc"/><rect x="880" y="365.5" width="1" height="45.5" fill="#7c7c7c"/><rect x="882.19" y="365.5" width="2.92" height="45.5" fill="#bcbcbc"/><rect x="883" y="365.5" width="1" height="45.5" fill="#7c7c7c"/><rect x="885.11" y="365.5" width="2.92" height="45.5" fill="#bcbcbc"/><rect x="886" y="365.5" width="1" height="45.5" fill="#7c7c7c"/><rect x="888.02" y="365.5" width="2.92" height="45.5" fill="#bcbcbc"/><rect x="889" y="365.5" width="1" height="45.5" fill="#7c7c7c"/><rect x="890" y="365.5" width="1" height="45.5" fill="#f4f4f4"/><rect x="890.94" y="365.5" width="2.92" height="45.5" fill="#bcbcbc"/><rect x="891" y="365.5" width="1" height="45.5" fill="#7c7c7c"/><rect x="893.86" y="365.5" width="2.92" height="45.5" fill="#bcbcbc"/><rect x="894" y="365.5" width="1" height="45.5" fill="#7c7c7c"/><rect x="896.77" y="365.5" width="2.92" height="45.5" fill="#bcbcbc"/><rect x="897" y="365.5" width="1" height="45.5" fill="#7c7c7c"/><rect x="899.69" y="365.5" width="2.92" height="45.5" fill="#bcbcbc"/><rect x="900" y="365.5" width="1" height="45.5" fill="#7c7c7c"/><rect x="902" y="365.5" width="1" height="45.5" fill="#f4f4f4"/><rect x="902.61" y="365.5" width="2.92" height="45.5" fill="#bcbcbc"/><rect x="903" y="365.5" width="1" height="45.5" fill="#7c7c7c"/><rect x="905.52" y="365.5" width="2.92" height="45.5" fill="#bcbcbc"/><rect x="906" y="365.5" width="1" height="45.5" fill="#7c7c7c"/><rect x="908.44" y="365.5" width="2.92" height="45.5" fill="#bcbcbc"/><rect x="909" y="365.5" width="1" height="45.5" fill="#7c7c7c"/><rect x="911.36" y="365.5" width="2.92" height="45.5" fill="#bcbcbc"/><rect x="912" y="365.5" width="1" height="45.5" fill="#7c7c7c"/><rect x="913" y="365.5" width="1" height="45.5" fill="#f4f4f4"/><rect x="914.27" y="365.5" width="2.92" height="45.5" fill="#bcbcbc"/><rect x="915" y="365.5" width="1" height="45.5" fill="#7c7c7c"/><rect x="917.19" y="365.5" width="2.92" height="45.5" fill="#bcbcbc"/><rect x="918" y="365.5" width="1" height="45.5" fill="#7c7c7c"/><rect x="920.11" y="365.5" width="2.92" height="45.5" fill="#bcbcbc"/><rect x="921" y="365.5" width="1" height="45.5" fill="#7c7c7c"/><rect x="923.02" y="365.5" width="2.92" height="45.5" fill="#bcbcbc"/><rect x="924" y="365.5" width="1" height="45.5" fill="#7c7c7c"/><rect x="925" y="365.5" width="1" height="45.5" fill="#f4f4f4"/><rect x="925.94" y="365.5" width="2.36" height="45.5" fill="#bcbcbc"/><rect x="926" y="365.5" width="1" height="45.5" fill="#7c7c7c"/></g>
<path d="M86 411.5 H928.5" stroke="#ccd6eb" stroke-width="1"/>
<text x="70.3" y="378" font-size="10.5" fill="#666" text-anchor="end">1 600M</text>
<text x="70.3" y="409.7" font-size="10.5" fill="#666" text-anchor="end">0</text>
<text transform="translate(23.2 399) rotate(-90)" font-size="11.2" font-weight="bold" fill="#606060" textLength="41.5" lengthAdjust="spacingAndGlyphs">24h Vol</text>
<path d="M110.5 412 V420" stroke="#ccd6eb" stroke-width="1"/>
<text x="111.0" y="428.8" font-size="10.2" fill="#666" text-anchor="middle" textLength="27.4" lengthAdjust="spacingAndGlyphs">16:00</text>
<path d="M180.5 412 V420" stroke="#ccd6eb" stroke-width="1"/>
<text x="181.0" y="428.8" font-size="10.2" fill="#666" text-anchor="middle" textLength="27.4" lengthAdjust="spacingAndGlyphs">18:00</text>
<path d="M250.5 412 V420" stroke="#ccd6eb" stroke-width="1"/>
<text x="251.0" y="428.8" font-size="10.2" fill="#666" text-anchor="middle" textLength="27.4" lengthAdjust="spacingAndGlyphs">20:00</text>
<path d="M320.5 412 V420" stroke="#ccd6eb" stroke-width="1"/>
<text x="321.0" y="428.8" font-size="10.2" fill="#666" text-anchor="middle" textLength="27.4" lengthAdjust="spacingAndGlyphs">22:00</text>
<path d="M390.5 412 V420" stroke="#ccd6eb" stroke-width="1"/>
<text x="391.0" y="428.8" font-size="10.2" fill="#666" text-anchor="middle">25. Jun</text>
<path d="M460.5 412 V420" stroke="#ccd6eb" stroke-width="1"/>
<text x="461.0" y="428.8" font-size="10.2" fill="#666" text-anchor="middle" textLength="27.4" lengthAdjust="spacingAndGlyphs">02:00</text>
<path d="M530.5 412 V420" stroke="#ccd6eb" stroke-width="1"/>
<text x="531.0" y="428.8" font-size="10.2" fill="#666" text-anchor="middle" textLength="27.4" lengthAdjust="spacingAndGlyphs">04:00</text>
<path d="M600.5 412 V420" stroke="#ccd6eb" stroke-width="1"/>
<text x="601.0" y="428.8" font-size="10.2" fill="#666" text-anchor="middle" textLength="27.4" lengthAdjust="spacingAndGlyphs">06:00</text>
<path d="M670.5 412 V420" stroke="#ccd6eb" stroke-width="1"/>
<text x="671.0" y="428.8" font-size="10.2" fill="#666" text-anchor="middle" textLength="27.4" lengthAdjust="spacingAndGlyphs">08:00</text>
<path d="M740.5 412 V420" stroke="#ccd6eb" stroke-width="1"/>
<text x="741.0" y="428.8" font-size="10.2" fill="#666" text-anchor="middle" textLength="27.4" lengthAdjust="spacingAndGlyphs">10:00</text>
<path d="M810.5 412 V420" stroke="#ccd6eb" stroke-width="1"/>
<text x="811.0" y="428.8" font-size="10.2" fill="#666" text-anchor="middle" textLength="27.4" lengthAdjust="spacingAndGlyphs">12:00</text>
<path d="M880.5 412 V420" stroke="#ccd6eb" stroke-width="1"/>
<text x="881.0" y="428.8" font-size="10.2" fill="#666" text-anchor="middle" textLength="27.4" lengthAdjust="spacingAndGlyphs">14:00</text>
<path d="M87.4 203.8 L89.6 210.3 L91.3 211.3 L93.2 211.5 L96.4 203.8 L99.9 206.5 L102.3 207.5 L105.0 208.5 L107.7 211.8 L110.4 215.0 L111.8 219.1 L113.3 224.3 L116.3 220.4 L119.0 221.0 L121.9 221.8 L124.7 226.1 L128.2 229.0 L131.2 245.2 L133.6 240.8 L136.8 237.6 L140.0 233.3 L142.7 229.6 L145.6 227.4 L148.6 228.2 L151.6 226.1 L154.0 216.6 L157.0 204.6 L159.9 203.9 L162.8 201.9 L165.9 202.1 L168.9 202.1 L171.8 195.1 L174.7 197.0 L177.5 201.0 L180.1 201.8 L183.1 199.9 L186.1 199.6 L189.6 207.5 L192.8 212.3 L196.0 215.0 L198.2 214.7 L201.4 211.5 L204.4 208.9 L206.8 201.0 L209.8 203.2 L212.7 195.1 L215.4 188.6 L218.1 187.8 L221.4 195.6 L224.1 197.5 L227.3 199.6 L230.0 205.9 L232.9 210.4 L235.9 206.4 L238.7 204.0 L241.6 201.6 L244.6 202.7 L247.6 203.1 L250.0 207.8 L253.2 211.6 L255.9 218.6 L258.8 223.4 L261.9 228.8 L264.9 234.7 L268.1 238.5 L270.7 235.3 L273.5 234.0 L276.7 236.3 L279.6 234.0 L282.9 232.8 L285.6 229.7 L288.3 221.8 L291.2 215.3 L294.2 218.2 L297.4 219.1 L300.7 218.9 L303.3 217.5 L306.0 215.9 L308.7 220.7 L312.0 222.3 L314.7 222.1 L317.7 219.3 L320.6 218.2 L323.5 216.4 L326.3 215.0 L329.2 216.9 L332.1 217.3 L335.1 221.0 L337.8 221.7 L340.7 226.4 L343.6 228.6 L346.6 224.5 L349.9 227.0 L352.6 229.5 L355.5 235.8 L358.7 238.3 L360.8 252.1 L363.9 257.2 L367.1 270.6 L370.2 269.7 L373.4 270.0 L376.5 271.0 L378.8 276.8 L380.5 286.9 L381.5 297.0 L384.9 305.8 L387.6 313.8 L388.9 320.6 L390.3 329.3 L393.4 325.3 L396.3 322.6 L399.0 315.2 L401.7 304.4 L405.5 295.3 L406.5 280.0 L407.7 258.1 L410.6 249.3 L413.9 257.6 L419.5 126.3 L420.8 133.0 L422.7 142.9 L425.3 129.6 L427.8 140.6 L431.0 149.2 L434.2 156.2 L437.5 146.0 L440.0 130.6 L442.9 124.9 L445.8 133.2 L448.3 121.7 L451.5 119.0 L454.7 123.9 L457.6 128.2 L460.4 124.9 L463.0 136.3 L465.8 140.0 L468.7 147.6 L472.0 146.5 L474.9 133.0 L477.7 136.8 L480.6 133.6 L483.8 139.3 L486.5 141.9 L489.5 144.0 L492.4 141.6 L495.1 134.3 L498.4 130.0 L501.4 127.6 L504.3 133.9 L507.0 136.8 L510.2 139.6 L513.6 139.0 L517.7 138.3 L521.4 137.4 L524.4 128.8 L527.1 127.2 L530.0 130.4 L533.2 132.6 L536.3 137.4 L539.3 140.4 L542.2 140.6 L545.1 138.7 L548.1 136.9 L551.1 134.0 L554.0 127.7 L556.5 115.9 L559.6 102.1 L562.7 109.6 L565.9 113.2 L568.8 112.1 L571.3 101.9 L574.5 104.0 L579.1 105.3 L582.4 104.2 L585.3 106.7 L588.5 108.5 L591.2 113.7 L594.4 120.2 L597.7 122.9 L600.7 121.0 L603.1 114.2 L606.3 111.9 L608.8 122.1 L612.1 127.5 L614.7 134.8 L617.4 139.7 L620.6 141.7 L622.2 149.4 L623.8 156.7 L626.3 162.7 L627.9 156.7 L629.5 149.8 L632.3 144.1 L635.1 143.1 L638.0 144.9 L641.2 149.2 L644.0 148.2 L646.8 151.0 L650.1 151.4 L652.9 153.0 L655.7 150.2 L657.3 143.7 L659.8 131.6 L661.4 123.2 L664.7 125.9 L667.3 123.2 L670.6 126.9 L673.1 137.7 L676.5 140.1 L681.9 144.4 L684.6 137.2 L687.8 135.0 L691.1 134.7 L693.8 132.1 L696.8 131.3 L699.8 128.5 L703.1 126.3 L705.8 124.9 L708.5 125.6 L711.2 127.7 L714.4 132.5 L717.1 135.3 L719.8 136.8 L722.8 138.7 L725.7 138.2 L728.6 139.2 L731.4 141.4 L734.0 140.6 L736.8 146.3 L740.0 149.5 L741.6 154.9 L743.0 159.4 L746.2 157.0 L749.4 159.4 L752.3 163.3 L755.1 166.7 L758.6 169.4 L762.7 171.6 L766.2 179.6 L769.4 183.6 L772.1 183.0 L775.0 182.3 L777.8 177.4 L781.0 176.3 L783.9 171.5 L786.9 160.7 L789.7 161.8 L793.1 158.6 L795.8 158.9 L799.0 164.7 L801.7 167.7 L804.4 166.1 L807.1 166.1 L809.8 160.7 L813.0 155.0 L815.9 144.2 L818.8 143.5 L821.7 141.0 L824.4 142.7 L827.0 144.5 L830.6 146.2 L833.5 147.8 L836.4 144.9 L839.4 148.3 L842.1 151.0 L845.0 153.7 L848.0 159.8 L850.8 159.3 L853.8 167.2 L856.7 166.6 L859.6 162.1 L862.6 159.6 L865.6 160.0 L868.6 162.1 L871.5 161.5 L874.5 159.1 L877.2 161.3 L880.1 166.6 L883.1 167.9 L886.1 167.7 L889.0 171.2 L891.9 169.7 L895.0 167.7 L897.7 160.2 L900.6 156.4 L903.6 152.8 L906.6 157.8 L909.5 160.2 L912.4 159.6 L914.9 158.9 L917.8 166.4 L920.8 167.5 L923.5 166.6 L927.3 166.6" fill="none" stroke="#17a47d" stroke-width="2" stroke-linejoin="round" stroke-linecap="round"/>
<path d="M86 455.5 H928.5" stroke="#d6d6d6" stroke-width="1.2"/>
<path d="M211.8 455.5 V491" stroke="#e6e6e6" stroke-width="1"/>
<path d="M353.5 455.5 V491" stroke="#e6e6e6" stroke-width="1"/>
<path d="M495.6 455.5 V491" stroke="#e6e6e6" stroke-width="1"/>
<path d="M636.6 455.5 V491" stroke="#e6e6e6" stroke-width="1"/>
<path d="M779.5 455.5 V491" stroke="#e6e6e6" stroke-width="1"/>
<path d="M99.0 488.0 L211.0 488.0 L300.0 487.9 L353.0 487.8 L420.0 487.7 L496.0 487.7 L545.0 487.5 L563.0 486.9 L580.0 486.9 L590.0 486.1 L593.5 485.5 L601.7 485.8 L604.1 485.3 L607.0 483.8 L608.7 483.6 L611.4 484.4 L613.4 483.2 L617.0 482.6 L621.0 482.0 L624.0 480.0 L626.3 480.3 L628.7 480.0 L632.2 480.8 L634.5 481.7 L636.9 481.4 L640.4 482.3 L645.9 483.0 L651.7 483.2 L657.6 483.2 L663.4 483.2 L669.3 481.4 L675.1 481.4 L679.8 480.7 L685.1 479.5 L688.6 480.8 L692.7 481.4 L697.3 482.5 L700.9 481.7 L703.8 482.2 L706.7 481.4 L712.6 481.4 L718.4 481.3 L719.6 480.5 L724.3 481.4 L727.8 481.7 L731.9 481.1 L736.0 481.5 L741.9 481.1 L745.0 480.4 L748.9 480.0 L751.3 478.4 L753.6 477.6 L755.9 478.4 L758.3 477.8 L761.4 478.4 L763.4 478.0 L764.5 475.7 L765.7 473.5 L767.7 472.5 L769.2 472.0 L770.8 470.8 L772.3 471.6 L773.9 472.5 L775.5 471.4 L777.0 471.8 L779.0 472.4 L780.2 471.6 L781.7 469.8 L782.9 467.9 L784.5 465.7 L785.1 465.3 L787.3 460.1 L789.3 461.3 L790.7 458.4 L791.7 459.9 L792.9 464.8 L794.2 465.5 L795.4 464.0 L796.6 465.5 L798.3 466.2 L800.0 465.0 L801.5 462.3 L803.0 463.3 L804.9 463.8 L805.9 466.5 L807.6 468.4 L809.3 471.6 L811.3 469.9 L812.7 469.2 L814.7 469.2 L816.4 467.7 L818.6 467.0 L820.0 468.0 L821.5 469.6 L823.9 469.2 L826.9 469.1 L830.0 469.3 L831.0 470.5 L832.2 472.5 L834.9 472.5 L836.8 473.7 L839.5 476.1 L841.7 475.6 L844.6 476.6 L846.6 477.6 L848.6 479.3 L852.0 479.5 L855.4 479.5 L857.8 479.0 L860.8 476.8 L863.7 476.6 L865.6 474.9 L868.1 473.4 L870.0 473.9 L872.0 472.9 L873.9 473.2 L876.4 470.5 L877.9 470.5 L879.9 471.5 L882.3 472.7 L884.0 471.7 L886.2 472.6 L888.4 472.0 L891.1 474.2 L894.0 475.4 L897.0 474.9 L901.9 474.3 L904.3 474.6 L906.3 476.1 L909.2 476.8 L911.4 476.8 L915.0 476.8 L915 491 L99 491 Z" fill="#7cb5ec" fill-opacity="0.13"/>
<path d="M99.0 488.0 L211.0 488.0 L300.0 487.9 L353.0 487.8 L420.0 487.7 L496.0 487.7 L545.0 487.5 L563.0 486.9 L580.0 486.9 L590.0 486.1 L593.5 485.5 L601.7 485.8 L604.1 485.3 L607.0 483.8 L608.7 483.6 L611.4 484.4 L613.4 483.2 L617.0 482.6 L621.0 482.0 L624.0 480.0 L626.3 480.3 L628.7 480.0 L632.2 480.8 L634.5 481.7 L636.9 481.4 L640.4 482.3 L645.9 483.0 L651.7 483.2 L657.6 483.2 L663.4 483.2 L669.3 481.4 L675.1 481.4 L679.8 480.7 L685.1 479.5 L688.6 480.8 L692.7 481.4 L697.3 482.5 L700.9 481.7 L703.8 482.2 L706.7 481.4 L712.6 481.4 L718.4 481.3 L719.6 480.5 L724.3 481.4 L727.8 481.7 L731.9 481.1 L736.0 481.5 L741.9 481.1 L745.0 480.4 L748.9 480.0 L751.3 478.4 L753.6 477.6 L755.9 478.4 L758.3 477.8 L761.4 478.4 L763.4 478.0 L764.5 475.7 L765.7 473.5 L767.7 472.5 L769.2 472.0 L770.8 470.8 L772.3 471.6 L773.9 472.5 L775.5 471.4 L777.0 471.8 L779.0 472.4 L780.2 471.6 L781.7 469.8 L782.9 467.9 L784.5 465.7 L785.1 465.3 L787.3 460.1 L789.3 461.3 L790.7 458.4 L791.7 459.9 L792.9 464.8 L794.2 465.5 L795.4 464.0 L796.6 465.5 L798.3 466.2 L800.0 465.0 L801.5 462.3 L803.0 463.3 L804.9 463.8 L805.9 466.5 L807.6 468.4 L809.3 471.6 L811.3 469.9 L812.7 469.2 L814.7 469.2 L816.4 467.7 L818.6 467.0 L820.0 468.0 L821.5 469.6 L823.9 469.2 L826.9 469.1 L830.0 469.3 L831.0 470.5 L832.2 472.5 L834.9 472.5 L836.8 473.7 L839.5 476.1 L841.7 475.6 L844.6 476.6 L846.6 477.6 L848.6 479.3 L852.0 479.5 L855.4 479.5 L857.8 479.0 L860.8 476.8 L863.7 476.6 L865.6 474.9 L868.1 473.4 L870.0 473.9 L872.0 472.9 L873.9 473.2 L876.4 470.5 L877.9 470.5 L879.9 471.5 L882.3 472.7 L884.0 471.7 L886.2 472.6 L888.4 472.0 L891.1 474.2 L894.0 475.4 L897.0 474.9 L901.9 474.3 L904.3 474.6 L906.3 476.1 L909.2 476.8 L911.4 476.8 L915.0 476.8" fill="none" stroke="#76bae9" stroke-width="1.5" stroke-linejoin="round"/>
<text x="214.8" y="486.8" font-size="10" fill="#888">Jan '16</text>
<text x="356.5" y="486.8" font-size="10" fill="#888">Jul '16</text>
<text x="498.6" y="486.8" font-size="10" fill="#888">Jan '17</text>
<text x="639.6" y="486.8" font-size="10" fill="#888">Jul '17</text>
<text x="782.5" y="486.8" font-size="10" fill="#888">Jan '18</text>
<path d="M915 455.5 V491" stroke="#cccccc" stroke-width="1.2"/>
<rect x="911.8" y="466.6" width="6.8" height="13" rx="1.5" fill="#f7f7f7" stroke="#a0a0a0" stroke-width="1.1"/>
<path d="M914 469.5 V477 M916 469.5 V477" stroke="#bdbdbd" stroke-width="1"/>
<rect x="85" y="491" width="843" height="13" fill="#f2f2f2"/>
<rect x="85.5" y="491.5" width="13" height="12.5" fill="#e6e6e6" stroke="#cccccc" stroke-width="1"/>
<path d="M90.5 498 L93.5 495.5 L93.5 500.5 Z" fill="#333"/>
<rect x="910" y="491" width="6" height="13" fill="#cccccc"/>
<rect x="915.5" y="491.5" width="12.5" height="12.5" fill="#e6e6e6" stroke="#cccccc" stroke-width="1"/>
<path d="M924.5 498 L921.5 495.5 L921.5 500.5 Z" fill="#333"/>
<path d="M331.3 525 H345.5" stroke="#555" stroke-width="2"/>
<text x="351.2" y="528.6" font-size="11" font-weight="bold" fill="#555" textLength="60.5" lengthAdjust="spacingAndGlyphs">Market Cap</text>
<path d="M430.4 525 H445" stroke="#17a47d" stroke-width="2"/>
<text x="449.9" y="528.6" font-size="11" font-weight="bold" fill="#5b8fd6" textLength="58.4" lengthAdjust="spacingAndGlyphs">Price (USD)</text>
<path d="M527 525 H541.4" stroke="#555" stroke-width="2"/>
<text x="546.7" y="528.6" font-size="11" font-weight="bold" fill="#555" textLength="57.5" lengthAdjust="spacingAndGlyphs">Price (BTC)</text>
<circle cx="630.4" cy="524.2" r="5" fill="#727272"/>
<text x="643" y="528.6" font-size="11" font-weight="bold" fill="#5b8fd6" textLength="40.7" lengthAdjust="spacingAndGlyphs">24h Vol</text>
<text x="931" y="548.7" font-size="9" fill="#999" textLength="76.2" lengthAdjust="spacingAndGlyphs">coinmarketcap.com</text>
</svg></body></html>
